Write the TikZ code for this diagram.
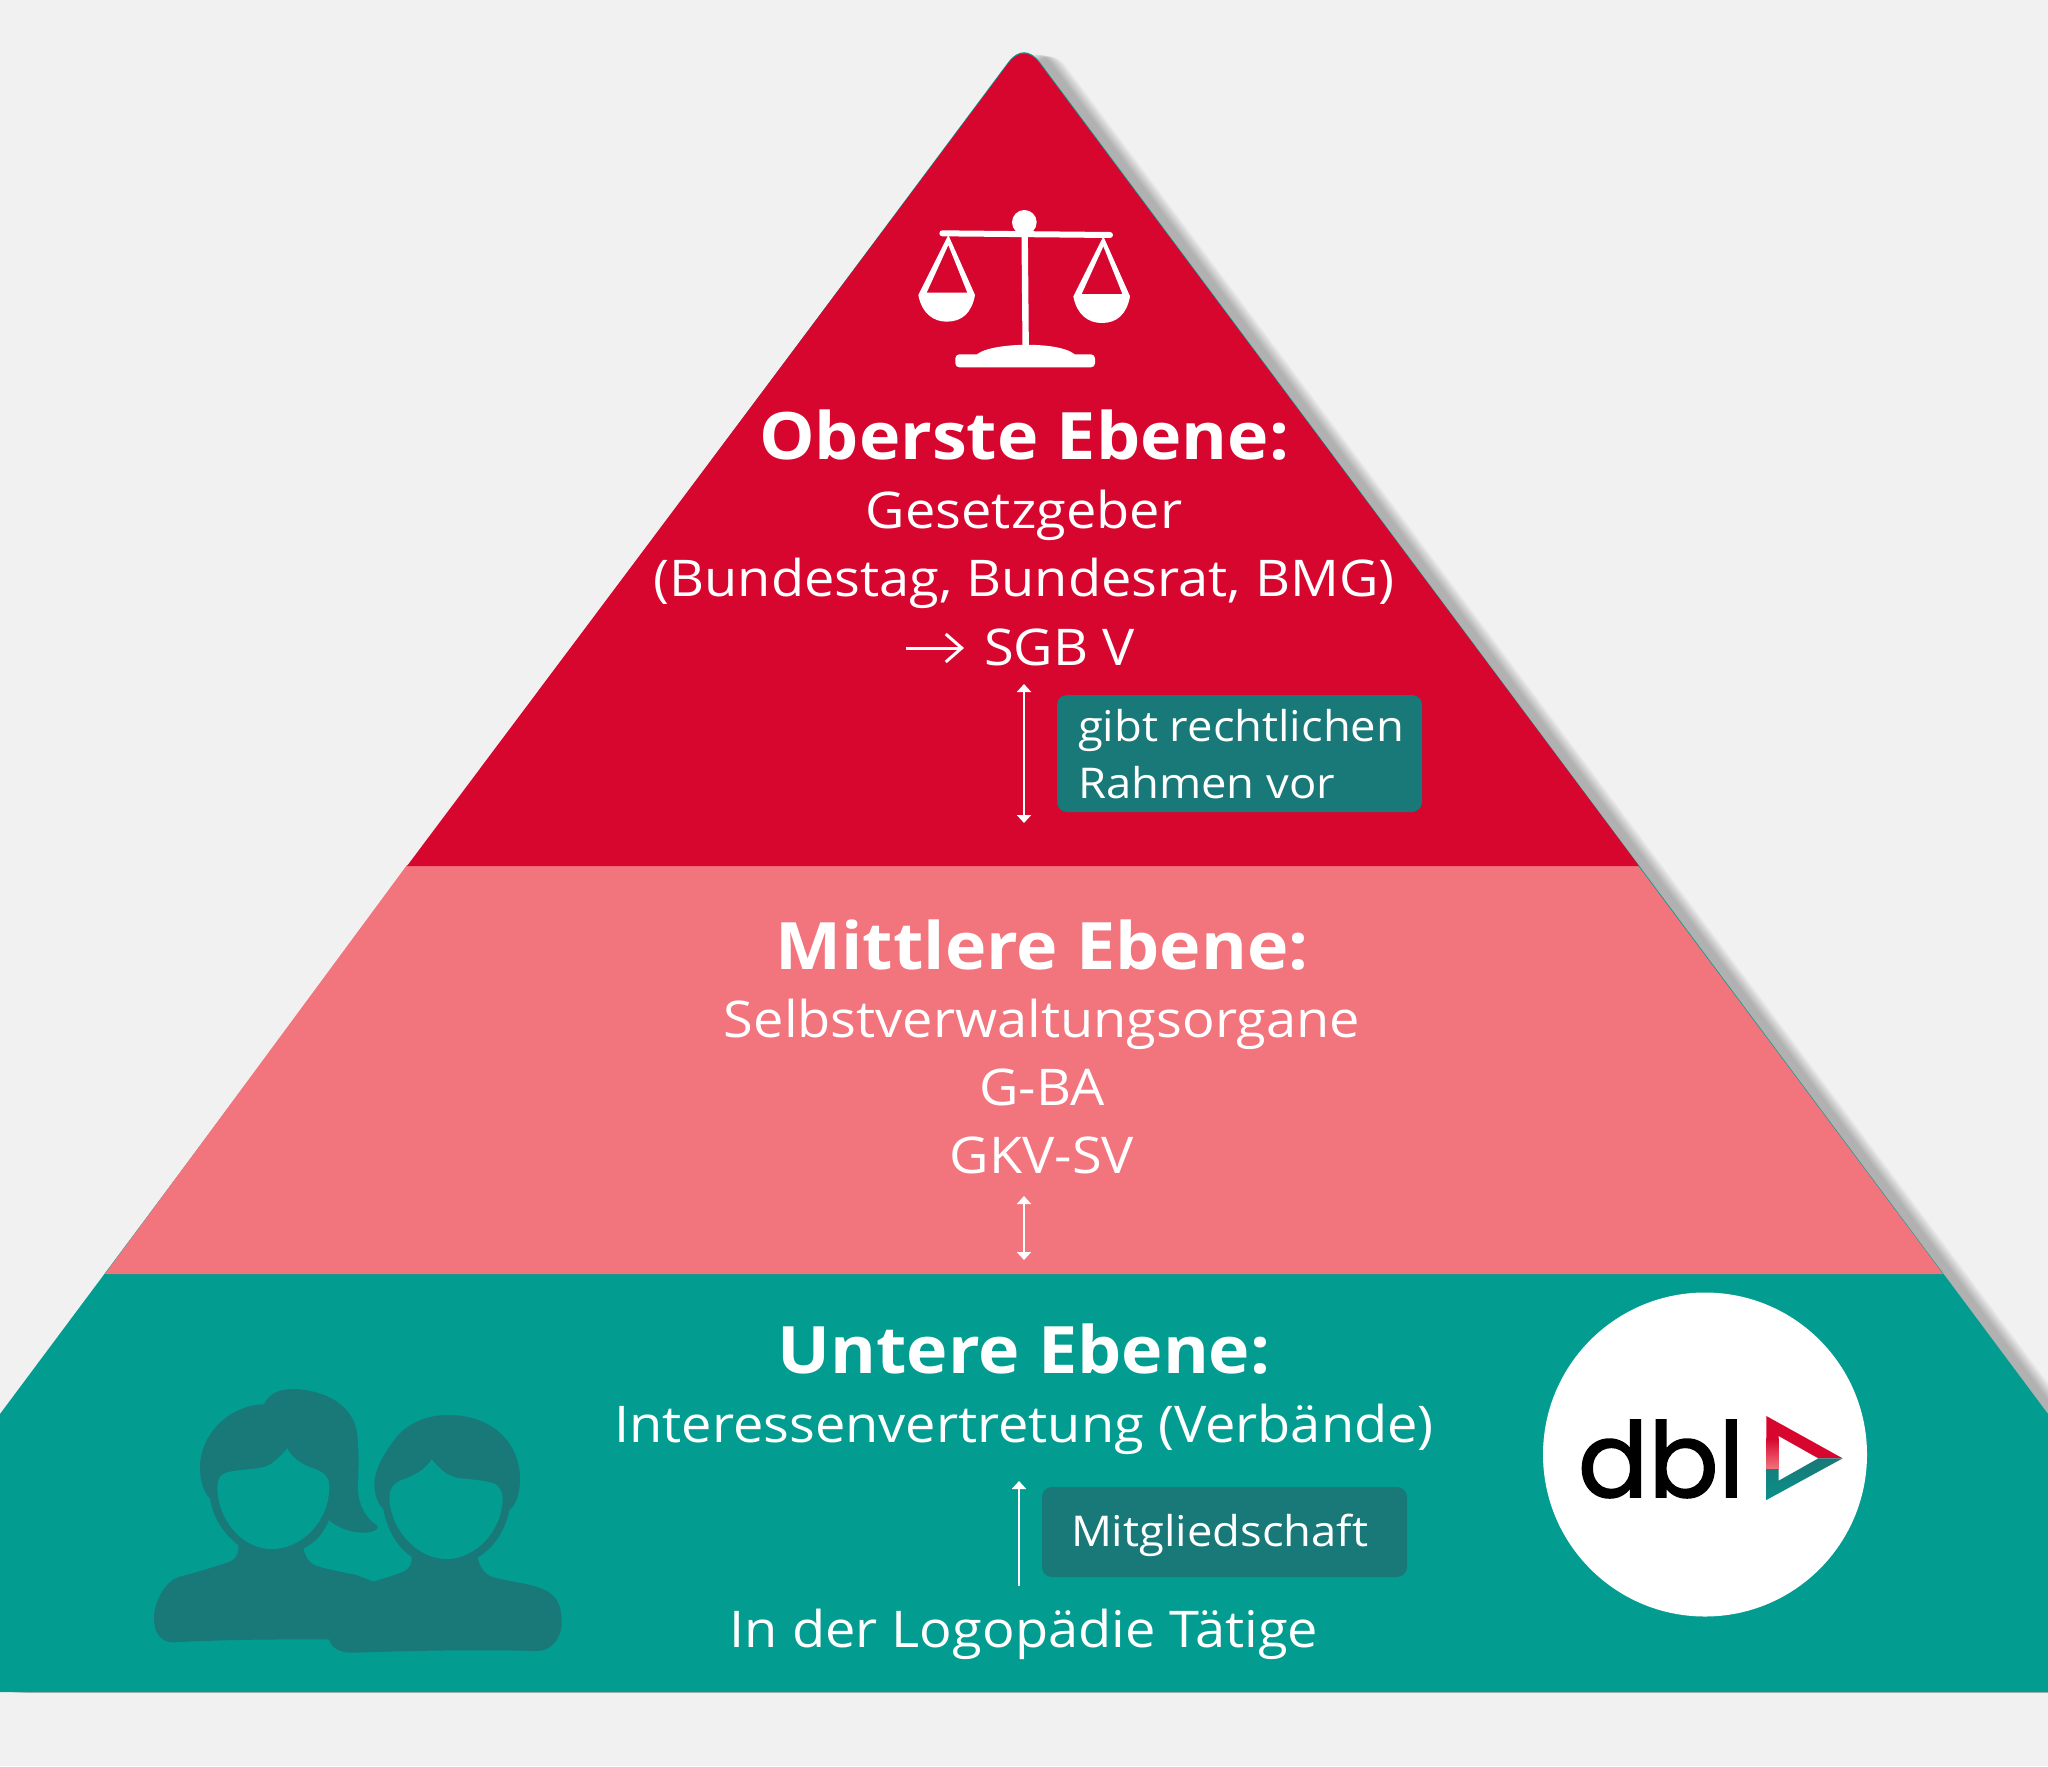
\documentclass[tikz,border=0pt]{standalone}
\usepackage{fontspec}
\setmainfont[FakeStretch=1.07]{Open Sans}
\newfontfamily\dblfont[FakeBold=1.6]{Poppins}
\usetikzlibrary{arrows.meta}
\definecolor{bgc}{HTML}{F1F1F1}
\definecolor{redc}{HTML}{D6062E}
\definecolor{pinkc}{HTML}{F2747D}
\definecolor{tealc}{HTML}{029C91}
\definecolor{darkt}{HTML}{197878}
\newcommand{\bigT}{\fontsize{32.7}{32.7}\selectfont\bfseries}
\newcommand{\midT}{\fontsize{25.3}{25.3}\selectfont}
\newcommand{\smlT}{\fontsize{21.2}{21.2}\selectfont}
\tikzset{
  x=0.5pt,y=-0.5pt,
  txt/.style={inner sep=0pt,outer sep=0pt,text=white,anchor=base},
  txtl/.style={inner sep=0pt,outer sep=0pt,text=white,anchor=base west},
  tagbox/.style={fill=darkt,rounded corners=5pt},
  dbl/.style={draw=white,line width=1pt,{Triangle[width=7pt,length=4pt]}-{Triangle[width=7pt,length=4pt]}},
  upa/.style={draw=white,line width=1pt,-{Triangle[width=7pt,length=4pt]}},
  thin arrow/.style={draw=white,line width=1.5pt,-{Straight Barb[length=8pt,width=14pt,line width=1.5pt]}}
}
\def\pyr{(1008.3,62) .. controls (1018,49) and (1030,49) .. (1039.7,62) -- (2048,1414) -- (2048,1692) -- (0,1692) -- (0,1414) -- cycle}
\begin{document}
\begin{tikzpicture}
\useasboundingbox (0,0) rectangle (2048,1766);
\fill[bgc] (0,0) rectangle (2048,1766);
% shadow
\begin{scope}
\clip (0,0) rectangle (2048,1692);
\foreach \k in {22,20.5,19,17.5,16,14.5,13,11.5,10}{
  \fill[black,opacity=.032,shift={(1.2*\k,0.2*\k)}] \pyr;
}
\end{scope}
% layers
\fill[tealc] \pyr;
\fill[pinkc] (407,865) -- (1637.5,865) -- (1943,1274) -- (105,1274) -- cycle;
\fill[redc] (1008.6,63) .. controls (1018,50.5) and (1030,50.5) .. (1039.4,63) -- (1639,866) -- (407,866) -- cycle;
% scales icon
\begin{scope}[shift={(880,180)},scale=1/3]
\fill[white] (433,127) circle (37);
\draw[white,line width=3pt,line cap=round] (187,160) -- (690,165);
\draw[white,line width=3.2pt] (434,165) -- (437,500);
\fill[white,rounded corners=2pt] (226,523) rectangle (645,562);
\fill[white] (285,530) .. controls (310,485) and (560,480) .. (590,530) -- cycle;
\foreach \dx/\dy in {0/0,465/4}{
  \begin{scope}[shift={(\dx,\dy)}]
  \fill[white,even odd rule] (205,165) -- (115,345) .. controls (125,400) and (160,425) .. (200,425)
    .. controls (245,425) and (275,400) .. (285,345) -- cycle
    (205,195) -- (140,338) -- (262,338) -- cycle;
  \end{scope}
}
\end{scope}
% people
\begin{scope}[shift={(130,1360)},scale=1/3]
\fill[darkt] (402,133) .. controls (420,95) and (455,87) .. (495,87)
  .. controls (580,92) and (680,130) .. (683,240)
  .. controls (688,300) and (685,340) .. (683,385)
  .. controls (685,430) and (705,475) .. (740,495)
  .. controls (750,505) and (735,518) .. (700,518)
  .. controls (665,518) and (625,505) .. (597,480)
  .. controls (580,520) and (555,550) .. (520,565)
  .. controls (525,590) and (540,612) .. (560,618)
  .. controls (600,630) and (640,637) .. (680,645)
  -- (730,665) -- (730,780) -- (595,838)
  .. controls (450,838) and (300,838) .. (130,847)
  .. controls (90,847) and (72,815) .. (72,775)
  .. controls (72,720) and (110,660) .. (150,650)
  .. controls (200,637) and (250,622) .. (300,605)
  .. controls (320,595) and (327,580) .. (325,555)
  .. controls (280,520) and (250,475) .. (240,415)
  .. controls (215,390) and (210,350) .. (210,320)
  .. controls (212,220) and (300,135) .. (402,133) -- cycle;
\fill[tealc] (262,385) .. controls (262,350) and (275,340) .. (300,335)
  .. controls (340,327) and (380,328) .. (405,320)
  .. controls (430,312) and (455,285) .. (472,265)
  .. controls (485,295) and (520,315) .. (550,325)
  .. controls (580,335) and (598,350) .. (598,380)
  .. controls (598,480) and (520,567) .. (425,567)
  .. controls (330,567) and (262,470) .. (262,385) -- cycle;
\fill[darkt] (955,165) .. controls (1080,165) and (1165,240) .. (1170,350)
  .. controls (1172,390) and (1160,435) .. (1138,450)
  .. controls (1125,515) and (1090,565) .. (1043,592)
  .. controls (1048,620) and (1065,645) .. (1090,652)
  .. controls (1130,662) and (1170,668) .. (1200,675)
  .. controls (1260,690) and (1295,710) .. (1295,785)
  .. controls (1295,835) and (1265,873) .. (1220,873)
  .. controls (1050,868) and (850,872) .. (665,878)
  .. controls (630,878) and (605,865) .. (597,838)
  -- (640,720) -- (730,665)
  .. controls (760,655) and (790,648) .. (820,635)
  .. controls (840,625) and (847,610) .. (845,590)
  .. controls (800,560) and (772,510) .. (760,447)
  .. controls (745,435) and (733,405) .. (733,370)
  .. controls (735,320) and (770,270) .. (800,230)
  .. controls (840,185) and (895,165) .. (955,165) -- cycle;
\fill[tealc] (778,420) .. controls (778,385) and (790,370) .. (815,360)
  .. controls (850,348) and (885,330) .. (905,298)
  .. controls (925,322) and (950,350) .. (990,355)
  .. controls (1030,358) and (1060,362) .. (1085,368)
  .. controls (1110,375) and (1118,395) .. (1118,420)
  .. controls (1115,510) and (1040,597) .. (950,597)
  .. controls (860,597) and (785,510) .. (778,420) -- cycle;
\end{scope}
% texts
\node[txt] (t1) at (1024,459) {\bigT Oberste Ebene:};
\node[txt] (t2) at (1024,528) {\midT Gesetzgeber};
\node[txt] (t3) at (1024,596) {\midT (Bundestag, Bundesrat, BMG)};
\node[txtl] (t4) at (984,665) {\midT SGB V};
\coordinate (a0) at (906,648);
\coordinate (a1) at (964,648);
\draw[thin arrow] (a0) -- (a1);
\node[tagbox,minimum width=182.5pt,minimum height=58.5pt,inner sep=0pt] (b1) at (1239.5,753.5) {};
\node[txtl] (b1a) at (1078,741) {\smlT gibt rechtlichen};
\node[txtl] (b1b) at (1078,798) {\smlT Rahmen vor};
\coordinate (d1a) at (1024,684);
\coordinate (d1b) at (1024,823);
\draw[dbl] (d1a) -- (d1b);
\node[txt] (m1) at (1042,969) {\bigT Mittlere Ebene:};
\node[txt] (m2) at (1042,1037) {\midT Selbstverwaltungsorgane};
\node[txt] (m3) at (1042,1105) {\midT G-BA};
\node[txt] (m4) at (1042,1173) {\midT GKV-SV};
\coordinate (d2a) at (1024,1196);
\coordinate (d2b) at (1024,1260);
\draw[dbl] (d2a) -- (d2b);
\node[txt] (u1) at (1024,1373) {\bigT Untere Ebene:};
\node[txt] (u2) at (1024,1442) {\midT Interessenvertretung (Verbände)};
\node[tagbox,minimum width=182.5pt,minimum height=45pt,inner sep=0pt] (b2) at (1224.5,1532) {};
\node[txtl] (b2a) at (1071,1546) {\smlT Mitgliedschaft};
\coordinate (up0) at (1019,1586);
\coordinate (up1) at (1019,1481);
\draw[upa] (up0) -- (up1);
\node[txt] (u3) at (1024,1647) {\midT In der Logopädie Tätige};
% logo
\fill[white] (1705,1454.5) circle (162);
\node[inner sep=0pt,outer sep=0pt,text=black,anchor=base west] (logo) at (1578,1497) {\fontsize{52}{52}\selectfont\dblfont dbl};
\begin{scope}[shift={(1520,1280)},scale=1/3]
\fill[redc] (739,408) -- (968,535) -- (895,535) -- (776,468) -- (776,567) -- (739,567) -- cycle;
\shade[top color=redc,bottom color=pinkc] (739,475) rectangle (776,567);
\shade[top color=darkt,bottom color=tealc!70!darkt] (739,567) -- (776,567) -- (776,602) -- (895,535) -- (968,535) -- (739,660) -- cycle;
\end{scope}
\end{tikzpicture}
\end{document}
